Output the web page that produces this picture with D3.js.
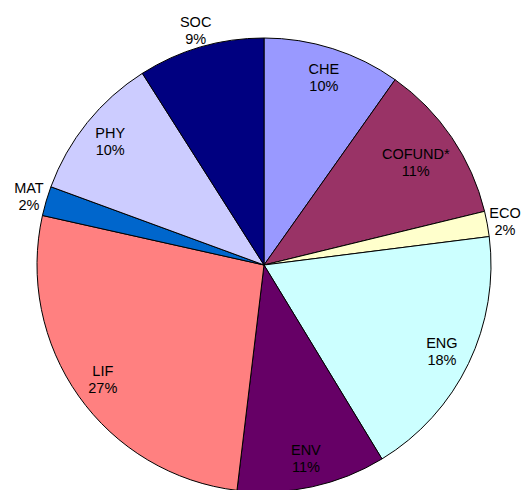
<!DOCTYPE html>
<html>
<head>
<meta charset="utf-8">
<script src="https://cdn.jsdelivr.net/npm/d3@7"></script>
<style>
  html, body { margin: 0; padding: 0; background: #fff; }
  text { font-family: "Liberation Sans", Arial, sans-serif; font-size: 14.5px; fill: #000; }
</style>
</head>
<body>
<div id="chart"></div>
<script>
// pie data, clockwise from 12 o'clock
const categories = ["CHE", "COFUND*", "ECO", "ENG", "ENV", "LIF", "MAT", "PHY", "SOC"];
const shares = [9.8, 11.4, 1.8, 18.3, 10.6, 26.6, 2.1, 10.4, 9.0];
const colors = ["#9999FF", "#993366", "#FFFFCC", "#CCFFFF", "#660066", "#FF8080", "#0066CC", "#CCCCFF", "#000080"];
// slices whose label sits outside the pie
const outsideLabels = ["ECO", "MAT", "SOC"];

const width = 525, height = 490;
const cx = 264, cy = 265, radius = 227;

const data = categories.map((c, i) => ({ label: c, value: shares[i], color: colors[i] }));
const total = d3.sum(shares);

const svg = d3.select("#chart")
  .append("svg")
  .attr("width", width)
  .attr("height", height)
  .append("g")
  .attr("transform", "translate(" + cx + "," + cy + ")");

const pie = d3.pie()
  .sort(null)
  .value(d => d.value);

const arc = d3.arc()
  .innerRadius(0)
  .outerRadius(radius);

const arcs = pie(data);

svg.selectAll("path.slice")
  .data(arcs)
  .enter()
  .append("path")
  .attr("class", "slice")
  .attr("d", arc)
  .attr("fill", d => d.data.color)
  .attr("stroke", "#000")
  .attr("stroke-width", 1);

const labels = svg.selectAll("g.label")
  .data(arcs)
  .enter()
  .append("g")
  .attr("class", "label");

labels.append("text")
  .attr("text-anchor", "middle")
  .attr("y", -3)
  .text(d => d.data.label);

labels.append("text")
  .attr("text-anchor", "middle")
  .attr("y", 14)
  .text(d => Math.round(d.data.value / total * 100) + "%");

// place labels: outside ones on a fixed ring, inside ones pulled in until the box fits
labels.attr("transform", function (d) {
  const mid = (d.startAngle + d.endAngle) / 2;
  const at = r => [Math.sin(mid) * r, -Math.cos(mid) * r];
  if (outsideLabels.includes(d.data.label)) {
    return "translate(" + at(245) + ")";
  }
  const box = this.getBBox();
  let r = radius * 0.87;
  while (r > 0) {
    const [x, y] = at(r);
    const corners = [[box.x, box.y], [box.x + box.width, box.y],
                     [box.x, box.y + box.height], [box.x + box.width, box.y + box.height]];
    const fits = corners.every(([px, py]) => Math.hypot(x + px, y + py) <= radius - 6);
    if (fits) break;
    r -= 1;
  }
  return "translate(" + at(r) + ")";
});
</script>
</body>
</html>
